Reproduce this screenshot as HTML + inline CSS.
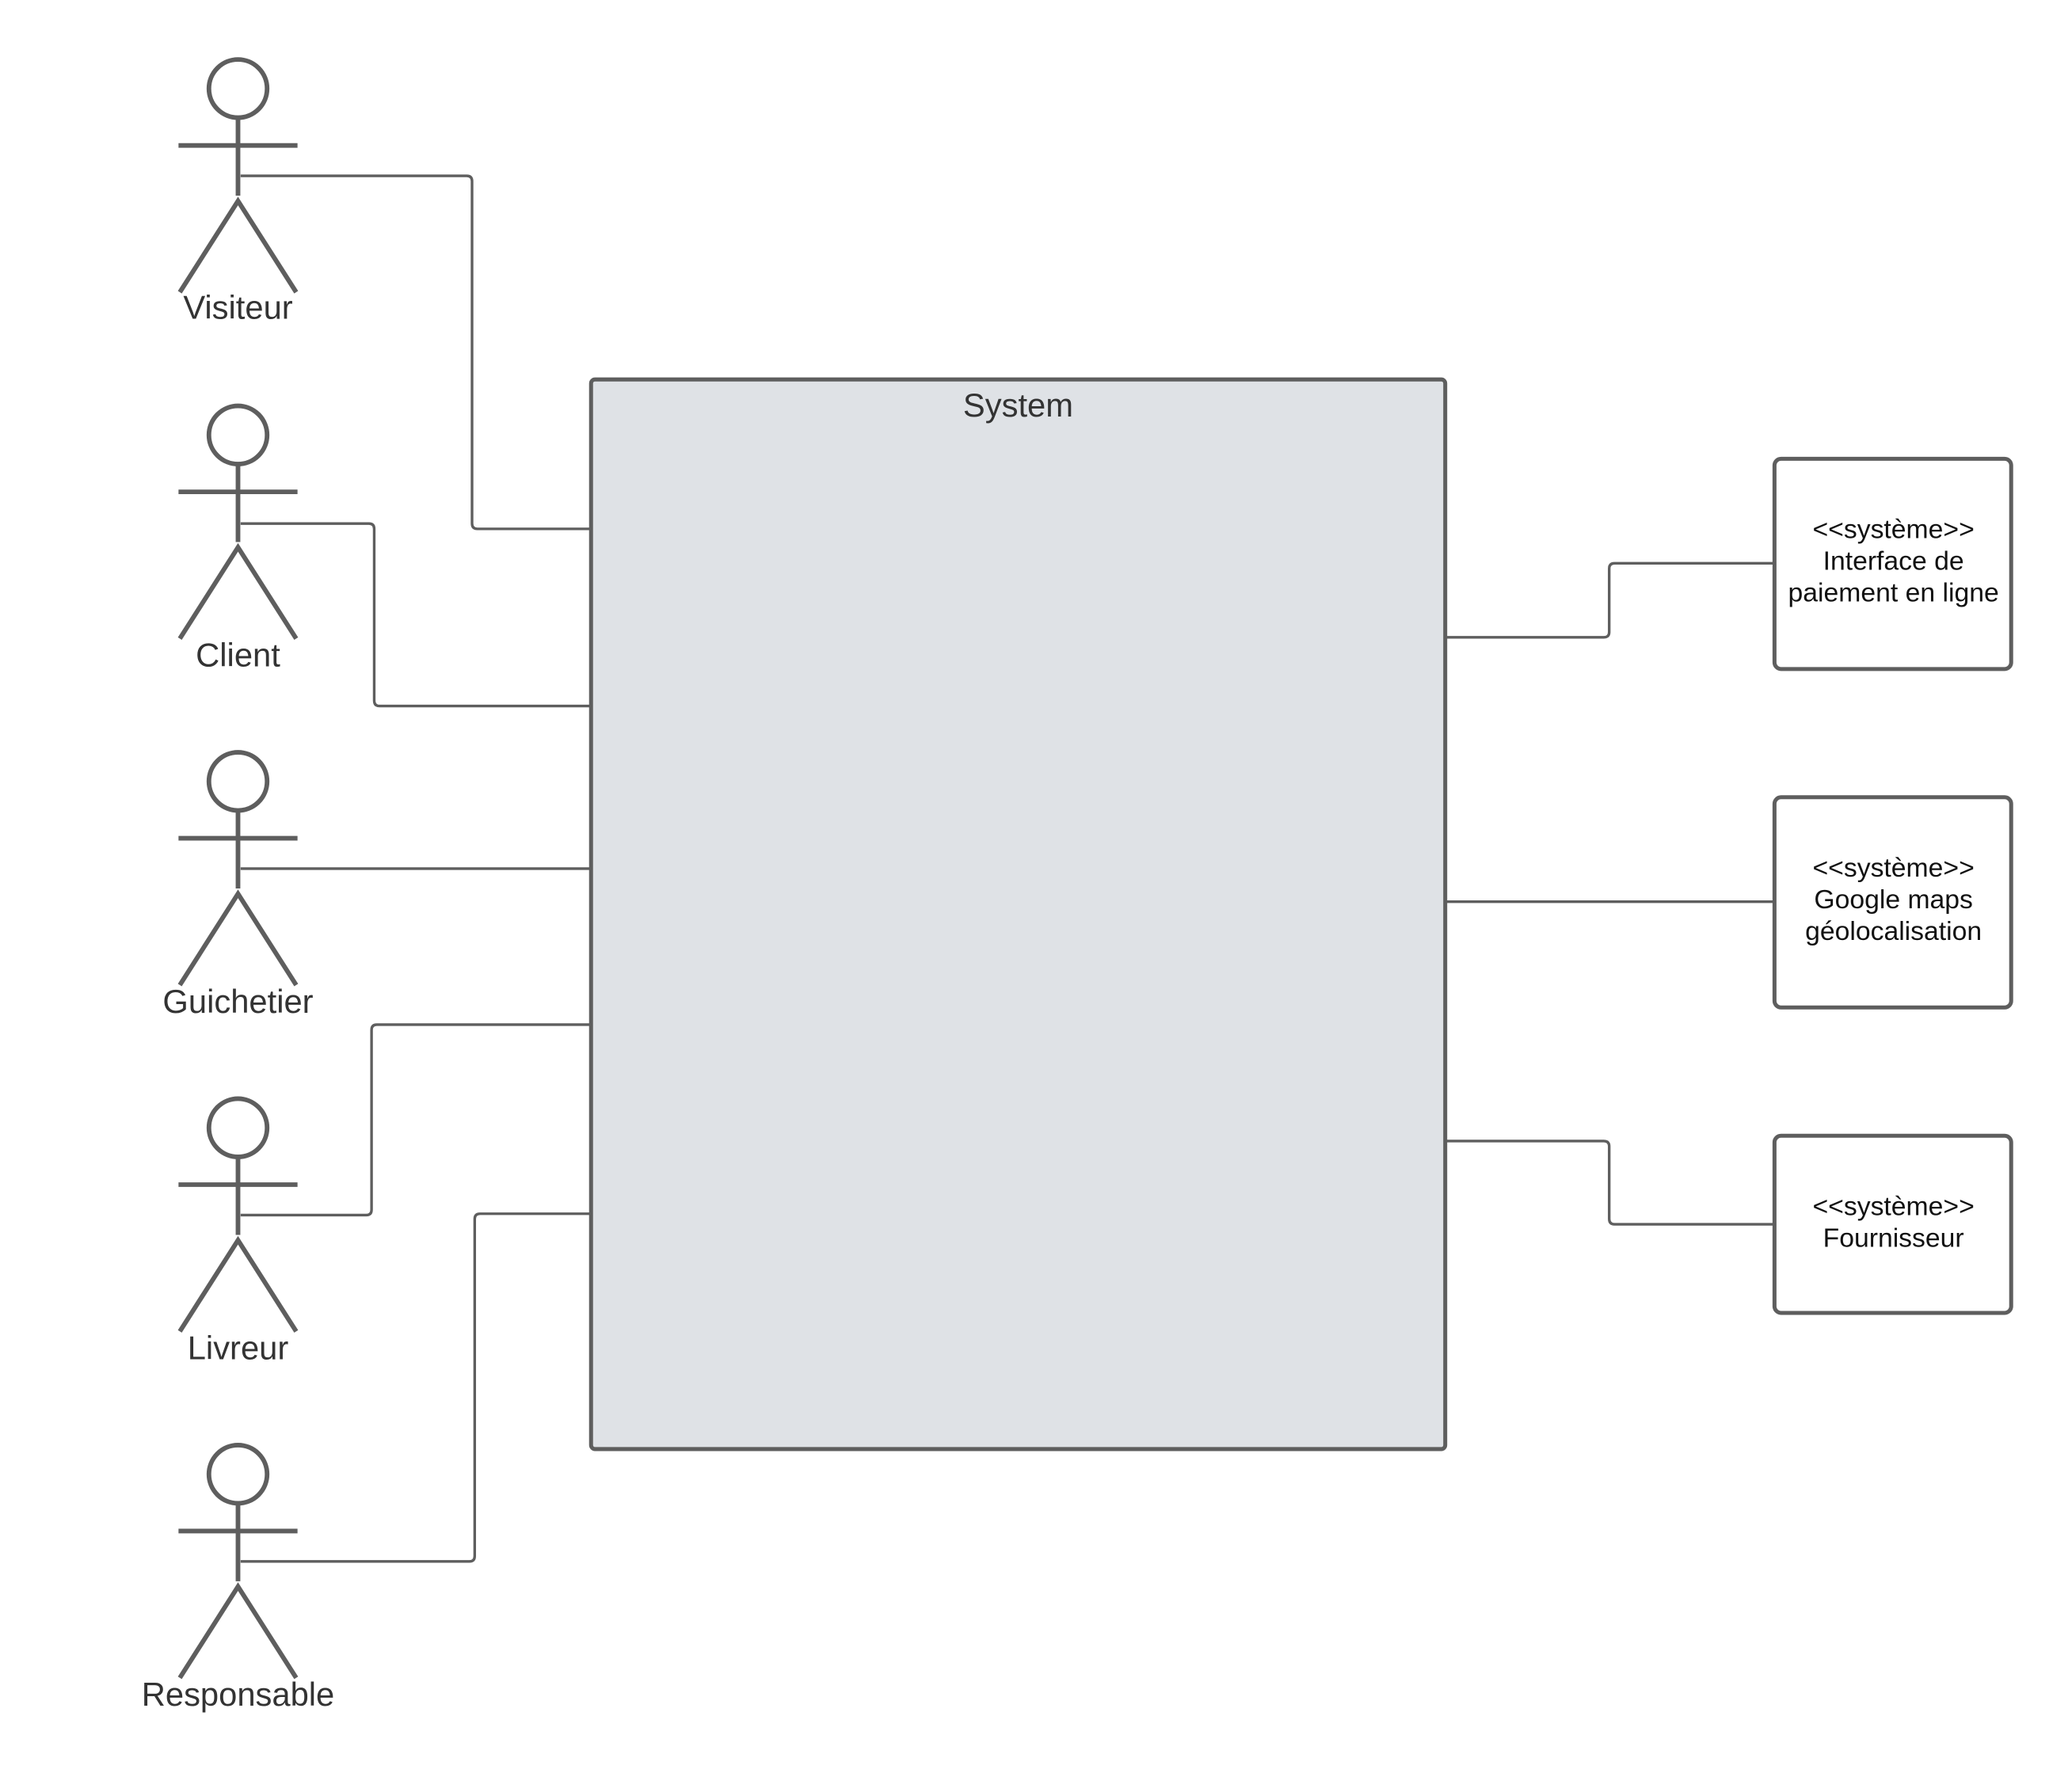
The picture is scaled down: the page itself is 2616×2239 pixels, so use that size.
<!DOCTYPE html>
<html><head><meta charset="utf-8"><style>
html,body{margin:0;padding:0;background:#fff;}
svg{display:block;}
text{font-family:"Liberation Sans",sans-serif;}
</style></head><body>
<svg width="2616" height="2239" viewBox="0 0 1567 1341" preserveAspectRatio="none" xmlns="http://www.w3.org/2000/svg">
<defs>
<g id="actor" fill="none" stroke="#5e5e5e" stroke-width="3.5">
<ellipse cx="180" cy="67" rx="22" ry="22"/>
<line x1="180" y1="89" x2="180" y2="148"/>
<line x1="135" y1="110" x2="225" y2="110"/>
<path d="M136 221 L180 152 L224 221"/>
</g>
</defs>
<rect x="447" y="287" width="646" height="809" rx="3" fill="#dfe2e6" stroke="#5e5e5e" stroke-width="3"/>
<text x="770" y="315" font-size="25" text-anchor="middle" fill="#333">System</text>
<g fill="none" stroke="#5e5e5e" stroke-width="2">
<path d="M182 133 H353 Q357 133 357 137 V396 Q357 400 361 400 H447"/>
<path d="M182 396 H279 Q283 396 283 400 V530 Q283 534 287 534 H447"/>
<path d="M182 657 H447"/>
<path d="M182 919 H277 Q281 919 281 915 V779 Q281 775 285 775 H447"/>
<path d="M182 1181 H355 Q359 1181 359 1177 V922 Q359 918 363 918 H447"/>
<path d="M1093 482 H1213 Q1217 482 1217 478 V430 Q1217 426 1221 426 H1342"/>
<path d="M1093 682 H1342"/>
<path d="M1093 863 H1213 Q1217 863 1217 867 V922 Q1217 926 1221 926 H1342"/>
</g>
<use href="#actor"/>
<use href="#actor" y="262"/>
<use href="#actor" y="524"/>
<use href="#actor" y="786"/>
<use href="#actor" y="1048"/>
<g font-size="25" text-anchor="middle" fill="#333">
<text x="180" y="241">Visiteur</text>
<text x="180" y="504">Client</text>
<text x="180" y="766">Guichetier</text>
<text x="180" y="1028">Livreur</text>
<text x="180" y="1290">Responsable</text>
</g>
<g fill="#fff" stroke="#5e5e5e" stroke-width="3">
<rect x="1342" y="347" width="179" height="159" rx="5"/>
<rect x="1342" y="603" width="179" height="159" rx="5"/>
<rect x="1342" y="859" width="179" height="134" rx="5"/>
</g>
<g font-size="20.2" text-anchor="middle" fill="#111">
<text x="1432" y="407">&lt;&lt;système&gt;&gt;</text>
<text x="1432" y="431">Interface de</text>
<text x="1432" y="455">paiement en ligne</text>
<text x="1432" y="663">&lt;&lt;système&gt;&gt;</text>
<text x="1432" y="687">Google maps</text>
<text x="1432" y="711">géolocalisation</text>
<text x="1432" y="919">&lt;&lt;système&gt;&gt;</text>
<text x="1432" y="943">Fournisseur</text>
</g>
</svg>
</body></html>
